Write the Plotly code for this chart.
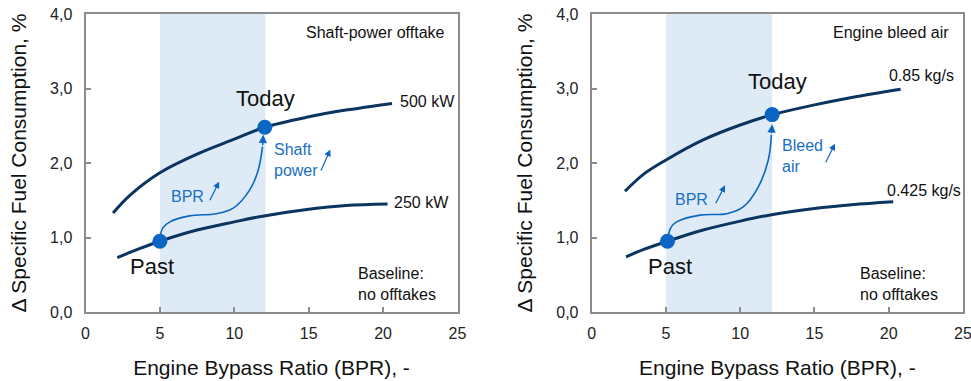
import plotly.graph_objects as go
from plotly.subplots import make_subplots

# ---------------- data ----------------
# Left panel: shaft-power offtake
left_500_x = [1.85, 3.0, 5.0, 7.5, 10.0, 12.05, 15.0, 17.5, 20.6]
left_500_y = [1.33, 1.57, 1.87, 2.12, 2.32, 2.48, 2.62, 2.71, 2.80]
left_250_x = [2.14, 3.5, 5.0, 7.5, 10.0, 12.0, 15.0, 17.5, 20.3]
left_250_y = [0.73, 0.84, 0.95, 1.10, 1.21, 1.29, 1.38, 1.43, 1.45]
left_past = (5.0, 0.95)
left_today = (12.05, 2.48)
left_path_x = [5.0, 5.2, 5.67, 7.0, 8.8, 9.9, 11.04, 11.6, 11.9]
left_path_y = [1.00, 1.13, 1.21, 1.29, 1.32, 1.39, 1.64, 1.90, 2.22]
left_band = (5.0, 12.1)

# Right panel: engine bleed air
right_085_x = [2.24, 3.5, 5.0, 7.5, 10.0, 12.2, 15.0, 17.5, 20.8]
right_085_y = [1.62, 1.85, 2.04, 2.31, 2.51, 2.65, 2.78, 2.88, 2.99]
right_0425_x = [2.31, 3.5, 5.1, 7.5, 10.0, 12.2, 15.0, 17.5, 20.3]
right_0425_y = [0.74, 0.84, 0.95, 1.10, 1.22, 1.31, 1.39, 1.44, 1.48]
right_past = (5.1, 0.95)
right_today = (12.15, 2.65)
right_path_x = [5.16, 5.35, 5.72, 7.29, 9.09, 10.2, 11.22, 11.89, 12.1]
right_path_y = [1.03, 1.14, 1.21, 1.30, 1.32, 1.41, 1.68, 2.04, 2.38]
right_band = (5.0, 12.15)

x_ticks = [0, 5, 10, 15, 20, 25]
y_ticks = [0.0, 1.0, 2.0, 3.0, 4.0]

# ---------------- style ----------------
FONT = "Liberation Sans, Arial, sans-serif"
NAVY = "#0b3560"
BLUE = "#0a66c2"
TXTBLUE = "#1a6fc4"
BAND = "#deebf7"
AXIS = "#8c8c8c"
W, H = 971, 381

fig = make_subplots(rows=1, cols=2)

def add_panel(col, up_x, up_y, lo_x, lo_y, past, today, px, py):
    fig.add_trace(go.Scatter(x=up_x, y=up_y, mode="lines", line=dict(color=NAVY, width=3, shape="spline"),
                             showlegend=False, hoverinfo="skip"), row=1, col=col)
    fig.add_trace(go.Scatter(x=lo_x, y=lo_y, mode="lines", line=dict(color=NAVY, width=3, shape="spline"),
                             showlegend=False, hoverinfo="skip"), row=1, col=col)
    fig.add_trace(go.Scatter(x=px, y=py, mode="lines", line=dict(color=BLUE, width=1.6, shape="spline"),
                             showlegend=False, hoverinfo="skip"), row=1, col=col)
    fig.add_trace(go.Scatter(x=[past[0], today[0]], y=[past[1], today[1]], mode="markers",
                             marker=dict(color=BLUE, size=15), showlegend=False), row=1, col=col)

add_panel(1, left_500_x, left_500_y, left_250_x, left_250_y, left_past, left_today, left_path_x, left_path_y)
add_panel(2, right_085_x, right_085_y, right_0425_x, right_0425_y, right_past, right_today, right_path_x, right_path_y)

for col, band in [(1, left_band), (2, right_band)]:
    xr = "x" if col == 1 else "x2"
    yr = "y" if col == 1 else "y2"
    fig.add_shape(type="rect", xref=xr, yref=yr, x0=band[0], x1=band[1], y0=0, y1=4,
                  fillcolor=BAND, line=dict(width=0), layer="below")

def ann(col, x, y, text, size=16, color="#111111", xanchor="center", yanchor="middle", align="left"):
    xr = "x" if col == 1 else "x2"
    yr = "y" if col == 1 else "y2"
    fig.add_annotation(xref=xr, yref=yr, x=x, y=y, text=text, showarrow=False,
                       font=dict(family=FONT, size=size, color=color),
                       xanchor=xanchor, yanchor=yanchor, align=align)

def arrow(col, x0, y0, x1, y1, size=1.0, width=1.5):
    xr = "x" if col == 1 else "x2"
    yr = "y" if col == 1 else "y2"
    fig.add_annotation(xref=xr, yref=yr, axref=xr, ayref=yr, x=x1, y=y1, ax=x0, ay=y0,
                       text="", showarrow=True, arrowhead=2, arrowsize=size, arrowwidth=width,
                       arrowcolor=BLUE)

# left panel texts
ann(1, 24.3, 3.75, "Shaft-power offtake", size=16, xanchor="right")
ann(1, 21.0, 2.82, "500 kW", size=16, xanchor="left")
ann(1, 20.6, 1.47, "250 kW", size=16, xanchor="left")
ann(1, 12.1, 2.86, "Today", size=22)
ann(1, 4.5, 0.61, "Past", size=22)
ann(1, 18.2, 0.37, "Baseline:<br>no offtakes", size=16, xanchor="left")
ann(1, 6.85, 1.55, "BPR", size=16, color=TXTBLUE)
ann(1, 12.55, 2.04, "Shaft<br>power", size=16, color=TXTBLUE, xanchor="left")
arrow(1, left_path_x[-1], left_path_y[-1], 11.95, 2.38, size=1.1)
arrow(1, 8.31, 1.48, 8.98, 1.75, size=1.1, width=1.2)
arrow(1, 15.78, 1.88, 16.45, 2.18, size=1.1, width=1.2)

# right panel texts
ann(2, 24.2, 3.75, "Engine bleed air", size=16, xanchor="right")
ann(2, 19.9, 3.17, "0.85 kg/s", size=16, xanchor="left")
ann(2, 19.75, 1.63, "0.425 kg/s", size=16, xanchor="left")
ann(2, 12.5, 3.1, "Today", size=22)
ann(2, 5.25, 0.61, "Past", size=22)
ann(2, 17.95, 0.37, "Baseline:<br>no offtakes", size=16, xanchor="left")
ann(2, 6.75, 1.51, "BPR", size=16, color=TXTBLUE)
ann(2, 12.65, 2.1, "Bleed<br>air", size=16, color=TXTBLUE, xanchor="left")
arrow(2, right_path_x[-1], right_path_y[-1], 12.15, 2.52, size=1.1)
arrow(2, 8.3, 1.44, 8.98, 1.70, size=1.1, width=1.2)
arrow(2, 15.71, 1.99, 16.38, 2.26, size=1.1, width=1.2)

ax_common = dict(showline=True, linecolor=AXIS, linewidth=2, mirror=True, ticks="inside",
                 ticklen=5, tickcolor=AXIS, tickwidth=1.5, showgrid=False, zeroline=False,
                 automargin=False, ticklabeloverflow="allow",
                 tickfont=dict(family=FONT, size=16, color="#222222"))

fig.update_xaxes(range=[0, 25], tickvals=x_ticks, ticklabelstandoff=6,
                 title=dict(text="Engine Bypass Ratio (BPR), -", font=dict(family=FONT, size=21, color="#111111"), standoff=19),
                 **ax_common)
fig.update_yaxes(range=[0, 4], tickvals=y_ticks, tickformat=".1f", ticklabelstandoff=8,
                 title=dict(text="Δ Specific Fuel Consumption, %", font=dict(family=FONT, size=21, color="#111111"), standoff=18),
                 **ax_common)

fig.update_layout(
    width=W, height=H,
    margin=dict(l=0, r=0, t=14, b=H - 312),
    plot_bgcolor="white", paper_bgcolor="white",
    separators=",.",
    xaxis=dict(domain=[85.5 / W, 457.5 / W]),
    xaxis2=dict(domain=[591.7 / W, 963 / W]),
    showlegend=False,
)

# remove the default page margin so the figure fills the window from its top-left corner
fig.write_html("out.html", config={"displayModeBar": False},
               post_script="document.body.style.margin='0';document.body.style.overflow='hidden';")
